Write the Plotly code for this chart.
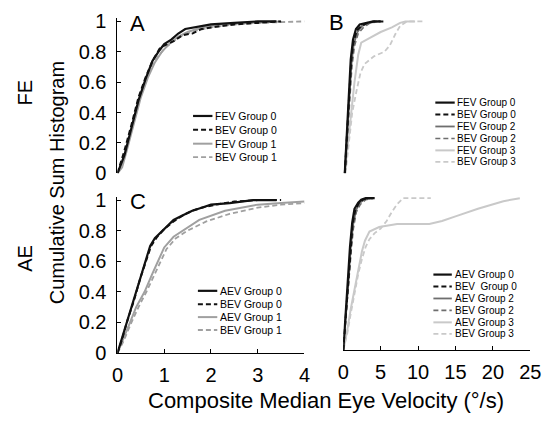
import plotly.graph_objects as go

W, H = 551, 427

# ---------------- data ----------------
# Panel A (FE, groups 0/1)
a_fev0_x = [0, 0.05, 0.15, 0.3, 0.45, 0.6, 0.75, 0.9, 1.0, 1.15, 1.3, 1.45, 1.7, 2.0, 2.5, 3.0, 3.4]
a_fev0_y = [0, 0.04, 0.12, 0.3, 0.48, 0.62, 0.74, 0.81, 0.85, 0.88, 0.92, 0.95, 0.965, 0.98, 0.99, 1.0, 1.0]
a_bev0_x = [0, 0.05, 0.15, 0.3, 0.45, 0.6, 0.75, 0.9, 1.0, 1.2, 1.4, 1.6, 1.8, 2.0, 2.5, 3.0, 3.5]
a_bev0_y = [0, 0.05, 0.15, 0.32, 0.5, 0.63, 0.74, 0.82, 0.84, 0.87, 0.91, 0.92, 0.95, 0.96, 0.98, 0.99, 1.0]
a_fev1_x = [0, 0.1, 0.2, 0.35, 0.5, 0.65, 0.8, 0.95, 1.1, 1.3, 1.5, 1.8, 2.2, 2.8, 3.5]
a_fev1_y = [0, 0.04, 0.15, 0.33, 0.5, 0.63, 0.73, 0.8, 0.85, 0.9, 0.93, 0.96, 0.98, 0.99, 1.0]
a_bev1_x = [0, 0.1, 0.2, 0.35, 0.5, 0.65, 0.8, 1.0, 1.2, 1.4, 1.7, 2.0, 2.5, 3.0, 4.0]
a_bev1_y = [0, 0.06, 0.18, 0.36, 0.52, 0.65, 0.74, 0.82, 0.87, 0.91, 0.94, 0.96, 0.98, 0.99, 1.0]

# Panel B (FE, groups 0/2/3)
b_fev0_x = [0.2, 0.5, 0.8, 1.0, 1.3, 1.7, 2.2, 3.0, 4.0, 5.0]
b_fev0_y = [0, 0.3, 0.6, 0.75, 0.88, 0.95, 0.98, 0.99, 1.0, 1.0]
b_bev0_x = [0.2, 0.5, 0.8, 1.05, 1.35, 1.8, 2.4, 3.2, 4.2, 5.7]
b_bev0_y = [0, 0.28, 0.57, 0.73, 0.86, 0.94, 0.97, 0.99, 1.0, 1.0]
b_fev2_x = [0.2, 0.55, 0.85, 1.1, 1.4, 1.9, 2.5, 3.5, 4.5]
b_fev2_y = [0, 0.28, 0.56, 0.72, 0.85, 0.93, 0.97, 0.99, 1.0]
b_bev2_x = [0.25, 0.6, 0.9, 1.15, 1.5, 2.0, 2.7, 3.6, 5.0]
b_bev2_y = [0, 0.27, 0.54, 0.7, 0.84, 0.92, 0.96, 0.99, 1.0]
b_fev3_x = [0.2, 0.6, 1.0, 1.5, 2.0, 2.4, 3.5, 5.0, 6.5, 7.6, 8.3, 9.6]
b_fev3_y = [0, 0.2, 0.4, 0.6, 0.78, 0.86, 0.89, 0.93, 0.96, 0.99, 1.0, 1.0]
b_bev3_x = [0.3, 0.7, 1.2, 1.8, 2.3, 2.85, 4.1, 5.5, 6.2, 7.0, 7.6, 8.5, 10.6]
b_bev3_y = [0, 0.2, 0.4, 0.55, 0.66, 0.72, 0.77, 0.8, 0.84, 0.92, 0.97, 1.0, 1.0]

# Panel C (AE, groups 0/1)
c_aev0_x = [0, 0.1, 0.2, 0.35, 0.5, 0.6, 0.7, 0.8, 1.0, 1.2, 1.4, 1.6, 1.8, 2.0, 2.4, 2.9, 3.4]
c_aev0_y = [0, 0.1, 0.21, 0.35, 0.5, 0.6, 0.7, 0.75, 0.81, 0.87, 0.9, 0.93, 0.95, 0.97, 0.98, 1.0, 1.0]
c_bev0_x = [0, 0.1, 0.2, 0.35, 0.5, 0.62, 0.72, 0.85, 1.0, 1.2, 1.4, 1.6, 1.8, 2.1, 2.5, 3.0, 3.5]
c_bev0_y = [0, 0.09, 0.2, 0.34, 0.5, 0.61, 0.7, 0.76, 0.81, 0.86, 0.9, 0.93, 0.95, 0.97, 0.99, 1.0, 1.0]
c_aev1_x = [0, 0.1, 0.27, 0.4, 0.58, 0.75, 0.87, 1.0, 1.2, 1.4, 1.75, 2.3, 3.0, 3.5, 4.0]
c_aev1_y = [0, 0.07, 0.2, 0.3, 0.4, 0.52, 0.6, 0.69, 0.76, 0.8, 0.87, 0.93, 0.97, 0.98, 0.99]
c_bev1_x = [0, 0.12, 0.3, 0.45, 0.62, 0.8, 0.92, 1.05, 1.25, 1.5, 1.9, 2.4, 3.0, 3.5, 4.0]
c_bev1_y = [0, 0.07, 0.2, 0.3, 0.4, 0.52, 0.6, 0.68, 0.75, 0.8, 0.86, 0.91, 0.95, 0.97, 0.98]

# Panel D (AE, groups 0/2/3)
d_aev0_x = [0, 0.3, 0.6, 0.9, 1.2, 1.5, 2.0, 2.4, 3.0, 4.2]
d_aev0_y = [0, 0.2, 0.45, 0.68, 0.84, 0.93, 0.97, 0.99, 1.0, 1.0]
d_bev0_x = [0, 0.3, 0.65, 0.95, 1.25, 1.6, 2.1, 2.6, 3.2, 4.0]
d_bev0_y = [0, 0.19, 0.44, 0.66, 0.83, 0.92, 0.97, 0.99, 1.0, 1.0]
d_aev2_x = [0, 0.35, 0.7, 1.0, 1.3, 1.7, 2.2, 2.8, 3.6]
d_aev2_y = [0, 0.2, 0.45, 0.67, 0.82, 0.92, 0.97, 0.99, 1.0]
d_bev2_x = [0, 0.35, 0.7, 1.05, 1.35, 1.75, 2.3, 3.0, 4.0]
d_bev2_y = [0, 0.19, 0.43, 0.65, 0.8, 0.91, 0.96, 0.99, 1.0]
d_aev3_x = [0, 0.5, 1.0, 1.5, 2.0, 2.5, 2.9, 3.5, 4.8, 7.2, 11.5, 13.2, 15, 18, 21.4, 23.6]
d_aev3_y = [0, 0.12, 0.27, 0.4, 0.53, 0.65, 0.72, 0.78, 0.81, 0.83, 0.83, 0.85, 0.88, 0.93, 0.98, 1.0]
d_bev3_x = [0, 0.5, 1.0, 1.5, 2.0, 2.5, 3.0, 3.5, 4.2, 5.0, 5.8, 6.5, 7.2, 8.0, 11.7]
d_bev3_y = [0, 0.1, 0.24, 0.38, 0.5, 0.6, 0.68, 0.73, 0.77, 0.8, 0.85, 0.91, 0.96, 1.0, 1.0]

y_ticks = [0, 0.2, 0.4, 0.6, 0.8, 1]
y_tick_text = ["0", "0.2", "0.4", "0.6", "0.8", "1"]
c_x_ticks = [0, 1, 2, 3, 4]
d_x_ticks = [0, 5, 10, 15, 20, 25]

legend_a = ["FEV Group 0", "BEV Group 0", "FEV Group 1", "BEV Group 1"]
legend_b = ["FEV Group 0", "BEV Group 0", "FEV Group 2", "BEV Group 2", "FEV Group 3", "BEV Group 3"]
legend_c = ["AEV Group 0", "BEV Group 0", "AEV Group 1", "BEV Group 1"]
legend_d = ["AEV Group 0", "BEV  Group 0", "AEV Group 2", "BEV Group 2", "AEV Group 3", "BEV Group 3"]

# ---------------- styles ----------------
BLACK = "#111111"
DARK = "#6e6e6e"
MID = "#a0a0a0"
LIGHT = "#c9c9c9"
FONT = "Liberation Sans, Arial, sans-serif"
DASH = "5px,3px"

sty_4 = [(BLACK, "solid", 2.2), (BLACK, DASH, 2.0), (MID, "solid", 2.0), (MID, DASH, 1.8)]
sty_6 = [(BLACK, "solid", 2.2), (BLACK, DASH, 2.0), (DARK, "solid", 1.8), (DARK, DASH, 1.6),
         (LIGHT, "solid", 2.0), (LIGHT, DASH, 1.8)]

fig = go.Figure()

def add(xs, ys, st, ax):
    c, d, w = st
    fig.add_trace(go.Scatter(x=xs, y=ys, mode="lines", line=dict(color=c, dash=d, width=w),
                             xaxis="x" + ax, yaxis="y" + ax, showlegend=False, hoverinfo="skip"))

panel_a = [(a_fev0_x, a_fev0_y), (a_bev0_x, a_bev0_y), (a_fev1_x, a_fev1_y), (a_bev1_x, a_bev1_y)]
panel_b = [(b_fev0_x, b_fev0_y), (b_bev0_x, b_bev0_y), (b_fev2_x, b_fev2_y), (b_bev2_x, b_bev2_y),
           (b_fev3_x, b_fev3_y), (b_bev3_x, b_bev3_y)]
panel_c = [(c_aev0_x, c_aev0_y), (c_bev0_x, c_bev0_y), (c_aev1_x, c_aev1_y), (c_bev1_x, c_bev1_y)]
panel_d = [(d_aev0_x, d_aev0_y), (d_bev0_x, d_bev0_y), (d_aev2_x, d_aev2_y), (d_bev2_x, d_bev2_y),
           (d_aev3_x, d_aev3_y), (d_bev3_x, d_bev3_y)]

# draw lighter first so darker sit on top
for i in reversed(range(4)):
    add(*panel_a[i], sty_4[i], "")
for i in reversed(range(6)):
    add(*panel_b[i], sty_6[i], "2")
for i in reversed(range(4)):
    add(*panel_c[i], sty_4[i], "3")
for i in reversed(range(6)):
    add(*panel_d[i], sty_6[i], "4")

def px_x(p):
    return p / W

def px_y(p):
    return 1 - p / H

YTOP = 1.02
def ydom(y0px, y1px):
    top = y0px - (y0px - y1px) * YTOP
    return [px_y(y0px), px_y(top)]

tickfont = dict(family=FONT, size=20, color="black")
ax_common = dict(showgrid=False, zeroline=False, ticks="inside", ticklen=4, tickcolor="black",
                 linecolor="black", linewidth=1, tickfont=tickfont)

fig.update_layout(
    width=W, height=H, margin=dict(l=0, r=0, t=0, b=0),
    paper_bgcolor="white", plot_bgcolor="white", showlegend=False,
    font=dict(family=FONT, color="black"),
    xaxis=dict(domain=[px_x(115), px_x(308)], range=[0, 4], visible=False, anchor="y"),
    yaxis=dict(domain=ydom(173, 14), range=[0, YTOP], anchor="x", showline=True,
               tickvals=y_ticks, ticktext=y_tick_text, ticklabelstandoff=6, **ax_common),
    xaxis2=dict(domain=[px_x(348), px_x(541)], range=[0, 25], visible=False, anchor="y2"),
    yaxis2=dict(domain=ydom(173, 14), range=[0, YTOP], visible=False, anchor="x2"),
    xaxis3=dict(domain=[px_x(115), px_x(308)], range=[0, 4], anchor="y3", showline=True,
                tickvals=c_x_ticks, ticklabelstandoff=4, **ax_common),
    yaxis3=dict(domain=ydom(361, 201), range=[0, YTOP], anchor="x3", showline=True,
                tickvals=y_ticks, ticktext=y_tick_text, ticklabelstandoff=6, **ax_common),
    xaxis4=dict(domain=[px_x(348), px_x(541)], range=[0, 25], anchor="y4", showline=True,
                tickvals=d_x_ticks, ticklabelstandoff=4, **ax_common),
    yaxis4=dict(domain=ydom(358, 199), range=[0, YTOP], visible=False, anchor="x4"),
)

annotations = []
shapes = []

def text(x, y, s, size, angle=0, xanchor="center"):
    annotations.append(dict(x=px_x(x), y=px_y(y), xref="paper", yref="paper", text=s,
                            showarrow=False, textangle=angle, xanchor=xanchor, yanchor="middle",
                            font=dict(family=FONT, size=size, color="black")))

text(136, 16, "A", 22)
text(341, 15, "B", 22)
text(136, 203, "C", 22)
text(20, 88, "FE", 20, -90)
text(20, 262, "AE", 20, -90)
text(52, 183, "Cumulative Sum Histogram", 20, -90)
text(330, 411, "Composite Median Eye Velocity (°/s)", 22)

def legend(labels, styles, x0, x1, xt, rows, size):
    for lab, st, ry in zip(labels, styles, rows):
        c, d, w = st
        shapes.append(dict(type="line", xref="paper", yref="paper", x0=px_x(x0), x1=px_x(x1),
                           y0=px_y(ry), y1=px_y(ry), line=dict(color=c, dash=d, width=w)))
        annotations.append(dict(x=px_x(xt), y=px_y(ry), xref="paper", yref="paper", text=lab,
                                showarrow=False, xanchor="left", yanchor="middle",
                                font=dict(family=FONT, size=size, color="black")))

legend(legend_a, sty_4, 193, 213, 214, [113, 127.5, 142, 156], 10.5)
legend(legend_b, sty_6, 443, 463, 463, [99, 111.5, 124, 136.5, 149, 161], 10)
legend(legend_c, sty_4, 198, 218, 219, [296, 310, 323.5, 337], 10.5)
legend(legend_d, sty_6, 441, 460, 461, [279, 291.5, 304, 316.5, 329, 341], 10)

fig.update_layout(annotations=annotations, shapes=shapes)
fig.write_html("out.html")
